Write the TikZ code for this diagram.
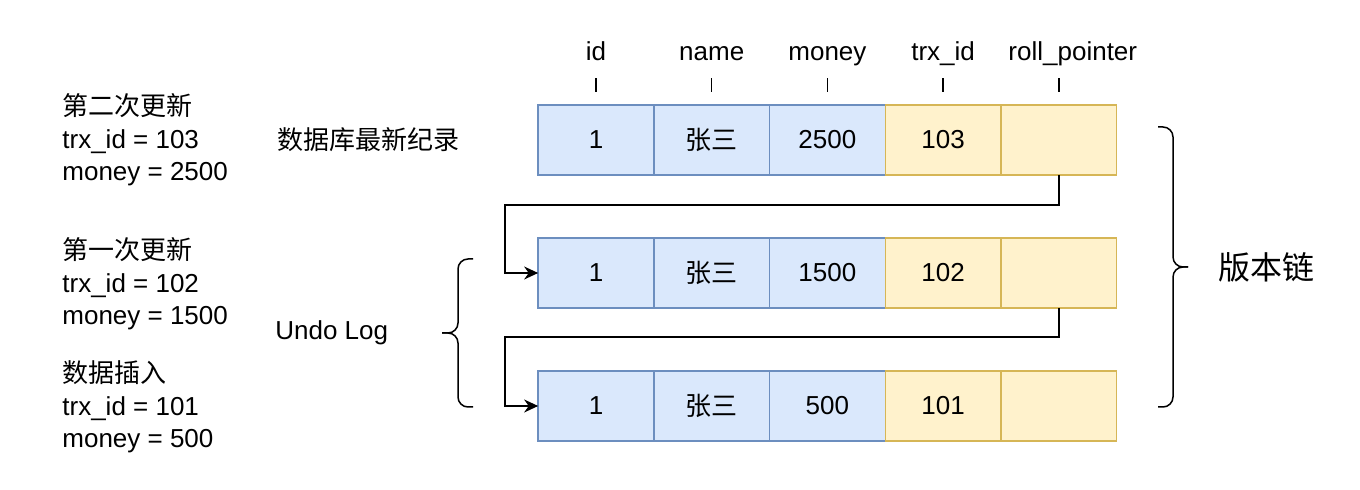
\documentclass[tikz,border=0pt]{standalone}
\usepackage{fontspec}
\setmainfont{Liberation Sans}
\newfontfamily\cjk{Noto Sans CJK SC}
\usepackage{xcolor}
\usetikzlibrary{arrows.meta}
\usetikzlibrary{positioning}
\definecolor{keyfill}{HTML}{DAE8FC}
\definecolor{keyline}{HTML}{6C8EBF}
\definecolor{trxfill}{HTML}{FFF2CC}
\definecolor{trxline}{HTML}{D6B656}
\tikzstyle{cellbox} = [draw=keyline, fill=keyfill, line width=0.7pt,
rectangle, minimum width=57.85pt, minimum height=35pt, inner sep=0pt,
outer sep=0pt, font=\fontsize{13}{16}\selectfont]
\tikzstyle{trxbox} = [cellbox, draw=trxline, fill=trxfill]
\tikzstyle{headtext} = [inner sep=0pt, font=\fontsize{13}{16}\selectfont]
\tikzstyle{notetext} = [inner sep=0pt, align=left,
font=\fontsize{13}{16.25}\selectfont]
\tikzstyle{arr} = [-{Stealth[length=7pt,width=6.5pt]}, line width=0.75pt]
\tikzstyle{bracepath} = [line width=0.75pt, rounded corners=5pt]

\begin{document}
\begin{tikzpicture}[x=0.5pt, y=-0.5pt]
        \useasboundingbox (0,0) rectangle (1360,490);
        % record rows
        \foreach \r/\y/\m/\t in {1/140/2500/103, 2/273/1500/102, 3/406/500/101} {
            \node [cellbox] (id\r) at (596,\y) {1};
            \node [cellbox, right=0pt of id\r] (name\r) {\cjk 张三};
            \node [cellbox, right=0pt of name\r] (money\r) {\m};
            \node [trxbox, right=0pt of money\r] (trx\r) {\t};
            \node [trxbox, right=0pt of trx\r] (roll\r) {};
        }
        % column heads
        \foreach \c/\h/\s in {id/id/0, name/name/0, money/money/0, trx/trx\_id/0, roll/roll\_pointer/7} {
            \node [headtext, anchor=base] (head\c) at ([xshift=\s pt, yshift=22pt]\c1.north) {\h};
            \draw [line width=0.7pt] ([yshift=6.5pt]\c1.north) -- ([yshift=13.5pt]\c1.north);
        }
        % roll pointers
        \draw [arr] (roll1.south) -- ++(0,30) -| ([xshift=-16.5pt]id2.west) -- (id2.west);
        \draw [arr] (roll2.south) -- ++(0,29) -| ([xshift=-16.5pt]id3.west) -- (id3.west);
        % notes
        \node [notetext, anchor=west] (upd2) at (62,140)
            {{\cjk 第二次更新}\\trx\_id = 103\\money = 2500};
        \node [notetext, anchor=west] (upd1) at (62,284)
            {{\cjk 第一次更新}\\trx\_id = 102\\money = 1500};
        \node [notetext, anchor=west] (ins) at (62,407)
            {{\cjk 数据插入}\\trx\_id = 101\\money = 500};
        \node [notetext, left=39pt of id1] (latest) {\cjk 数据库最新纪录};
        \node [notetext, anchor=west] (undo) at (275,333) {Undo Log};
        % braces
        \draw [bracepath] (473,259) -| (458,333) -- (442,333);
        \draw [bracepath] (473,407) -| (458,333) -- (442,333);
        \draw [bracepath] (1158,127) -| (1173,267) -- (1188,267);
        \draw [bracepath] (1158,407) -| (1173,267) -- (1188,267);
        \coordinate (chaintip) at (1188,267);
        \node [notetext, right=15pt of chaintip, font=\fontsize{16}{19}\selectfont] (chain) {\cjk 版本链};
    \end{tikzpicture}
\end{document}
